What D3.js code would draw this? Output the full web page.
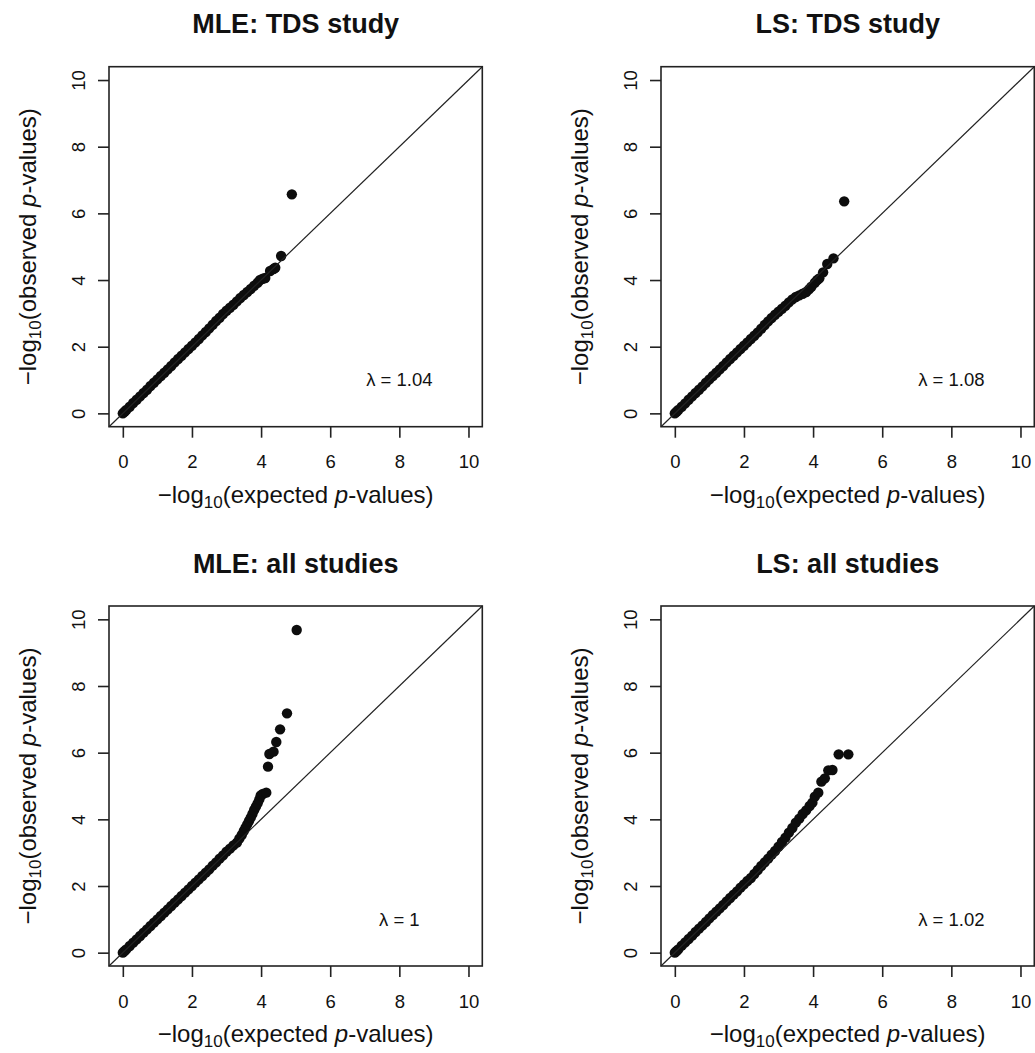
<!DOCTYPE html>
<html>
<head>
<meta charset="utf-8">
<script src="https://cdn.jsdelivr.net/npm/d3@7"></script>
<style>
  body { margin: 0; background: #fff; }
  svg text { font-family: 'Liberation Sans', Arial, Helvetica, sans-serif; fill: #111; }
</style>
</head>
<body>
<div id="chart"></div>
<script>
// panel titles and lambda labels, in order TL, TR, BL, BR
let titles = ['MLE: TDS study', 'LS: TDS study', 'MLE: all studies', 'LS: all studies']
let lambdas = ['λ = 1.04', 'λ = 1.08', 'λ = 1', 'λ = 1.02']
let ticks = [0, 2, 4, 6, 8, 10]

// [expected, observed] -log10 p-values
let mleTds = [
  [0, 0], [0.05, 0.05], [0.1, 0.1], [0.2, 0.2], [0.3, 0.31], [0.4, 0.41], [0.5, 0.51], [0.6, 0.61],
  [0.7, 0.71], [0.8, 0.82], [0.9, 0.92], [1.0, 1.02], [1.1, 1.12], [1.2, 1.22], [1.3, 1.32],
  [1.4, 1.42], [1.5, 1.53], [1.6, 1.63], [1.7, 1.73], [1.8, 1.83], [1.9, 1.93], [2.0, 2.03],
  [2.1, 2.13], [2.2, 2.23], [2.3, 2.34], [2.4, 2.44], [2.5, 2.55], [2.6, 2.66], [2.7, 2.77],
  [2.8, 2.87], [2.9, 2.98], [3.0, 3.08], [3.1, 3.17], [3.2, 3.26], [3.3, 3.36], [3.4, 3.46],
  [3.5, 3.55], [3.6, 3.64], [3.7, 3.73], [3.8, 3.83], [3.9, 3.92], [3.97, 4.0], [4.05, 4.04],
  [4.12, 4.06], [4.26, 4.27], [4.36, 4.33], [4.41, 4.37], [4.58, 4.72], [4.89, 6.57]
]
let lsTds = [
  [0, 0], [0.05, 0.05], [0.1, 0.1], [0.2, 0.2], [0.3, 0.3], [0.4, 0.41], [0.5, 0.51], [0.6, 0.61],
  [0.7, 0.71], [0.8, 0.81], [0.9, 0.92], [1.0, 1.02], [1.1, 1.12], [1.2, 1.22], [1.3, 1.32],
  [1.4, 1.42], [1.5, 1.53], [1.6, 1.63], [1.7, 1.73], [1.8, 1.83], [1.9, 1.93], [2.0, 2.03],
  [2.1, 2.13], [2.2, 2.23], [2.3, 2.33], [2.4, 2.43], [2.5, 2.54], [2.6, 2.65], [2.7, 2.76],
  [2.8, 2.86], [2.9, 2.96], [3.0, 3.05], [3.1, 3.14], [3.2, 3.23], [3.3, 3.33], [3.4, 3.42],
  [3.5, 3.49], [3.6, 3.54], [3.7, 3.59], [3.8, 3.64], [3.88, 3.72], [3.95, 3.8], [4.05, 3.92],
  [4.12, 4.0], [4.18, 4.05], [4.29, 4.23], [4.41, 4.48], [4.59, 4.65], [4.9, 6.36]
]
let mleAll = [
  [0, 0], [0.05, 0.05], [0.1, 0.1], [0.2, 0.2], [0.3, 0.3], [0.4, 0.4], [0.5, 0.5], [0.6, 0.6],
  [0.7, 0.7], [0.8, 0.8], [0.9, 0.9], [1.0, 1.0], [1.1, 1.1], [1.2, 1.2], [1.3, 1.3], [1.4, 1.4],
  [1.5, 1.5], [1.6, 1.6], [1.7, 1.7], [1.8, 1.8], [1.9, 1.9], [2.0, 2.0], [2.1, 2.1], [2.2, 2.2],
  [2.3, 2.3], [2.4, 2.4], [2.5, 2.5], [2.6, 2.61], [2.7, 2.71], [2.8, 2.82], [2.9, 2.92],
  [3.0, 3.03], [3.1, 3.12], [3.2, 3.22], [3.3, 3.3], [3.37, 3.42], [3.44, 3.53], [3.5, 3.65],
  [3.55, 3.75], [3.6, 3.85], [3.65, 3.95], [3.7, 4.05], [3.75, 4.16], [3.8, 4.28], [3.85, 4.38],
  [3.9, 4.48], [3.95, 4.6], [3.99, 4.72], [4.05, 4.76], [4.15, 4.8], [4.2, 5.58], [4.24, 5.96],
  [4.36, 6.03], [4.44, 6.32], [4.55, 6.7], [4.75, 7.18], [5.03, 9.68]
]
let lsAll = [
  [0, 0], [0.05, 0.05], [0.1, 0.1], [0.2, 0.21], [0.3, 0.31], [0.4, 0.41], [0.5, 0.51], [0.6, 0.62],
  [0.7, 0.72], [0.8, 0.82], [0.9, 0.92], [1.0, 1.03], [1.1, 1.13], [1.2, 1.23], [1.3, 1.33],
  [1.4, 1.43], [1.5, 1.54], [1.6, 1.64], [1.7, 1.74], [1.8, 1.84], [1.9, 1.95], [2.0, 2.05],
  [2.1, 2.15], [2.2, 2.24], [2.3, 2.36], [2.4, 2.48], [2.5, 2.6], [2.6, 2.71], [2.7, 2.82],
  [2.8, 2.94], [2.9, 3.05], [3.0, 3.18], [3.1, 3.32], [3.2, 3.45], [3.3, 3.6], [3.4, 3.74],
  [3.5, 3.9], [3.6, 4.02], [3.7, 4.16], [3.8, 4.27], [3.9, 4.4], [3.98, 4.5], [4.05, 4.68],
  [4.15, 4.8], [4.24, 5.13], [4.34, 5.23], [4.44, 5.47], [4.56, 5.48], [4.74, 5.95], [5.02, 5.95]
]
let series = [mleTds, lsTds, mleAll, lsAll]

let width = 1035
let height = 1053
let boxW = 373.3
let boxH = 360
let lefts = [109, 661]
let tops = [66.7, 606]

let svg = d3
  .select('#chart')
  .append('svg')
  .attr('width', width)
  .attr('height', height)

function subLabel(sel, word) {
  // -log10(<word> p-values) with a subscript 10 and italic p
  sel.append('tspan').text('\u2212log')
  sel.append('tspan').text('10').attr('font-size', 17).attr('dy', 5)
  sel.append('tspan').text('(' + word + ' ').attr('dy', -5)
  sel.append('tspan').text('p').attr('font-style', 'italic')
  sel.append('tspan').text('-values)')
}

series.forEach(function(data, i) {
  let x0 = lefts[i % 2]
  let y0 = tops[Math.floor(i / 2)]

  let x = d3.scaleLinear().domain([-0.4, 10.4]).range([0, boxW])
  let y = d3.scaleLinear().domain([-0.4, 10.4]).range([boxH, 0])

  let g = svg.append('g').attr('transform', `translate(${x0},${y0})`)

  // points
  g.selectAll('circle')
    .data(data)
    .enter()
    .append('circle')
    .attr('cx', d => x(d[0]))
    .attr('cy', d => y(d[1]))
    .attr('r', 5.2)
    .attr('fill', '#0d0d0d')

  // y = x reference line
  g.append('line')
    .attr('x1', x(-0.4))
    .attr('y1', y(-0.4))
    .attr('x2', x(10.4))
    .attr('y2', y(10.4))
    .attr('stroke', '#222')
    .attr('stroke-width', 1.2)

  // box
  g.append('rect')
    .attr('width', boxW)
    .attr('height', boxH)
    .attr('fill', 'none')
    .attr('stroke', '#222')
    .attr('stroke-width', 1.6)

  // x axis
  let xAxis = g
    .append('g')
    .attr('transform', `translate(0,${boxH})`)
    .call(d3.axisBottom(x).tickValues(ticks).tickSize(11).tickSizeOuter(0))
  xAxis.select('.domain').remove()
  xAxis.selectAll('line').attr('stroke', '#222').attr('stroke-width', 1.6)
  xAxis
    .selectAll('text')
    .attr('y', 41.6)
    .attr('dy', null)
    .attr('font-size', 18.5)
    .attr('font-family', null)

  // y axis, labels parallel to the axis
  let yAxis = g
    .append('g')
    .call(d3.axisLeft(y).tickValues(ticks).tickSize(11).tickSizeOuter(0))
  yAxis.select('.domain').remove()
  yAxis.selectAll('line').attr('stroke', '#222').attr('stroke-width', 1.6)
  yAxis
    .selectAll('text')
    .attr('transform', 'rotate(-90)')
    .attr('x', 0)
    .attr('y', -24)
    .attr('dy', null)
    .attr('text-anchor', 'middle')
    .attr('font-size', 18.5)
    .attr('font-family', null)

  // title
  g.append('text')
    .attr('x', boxW / 2)
    .attr('y', -33.4)
    .attr('text-anchor', 'middle')
    .attr('font-size', 27)
    .attr('font-weight', 'bold')
    .text(titles[i])

  // axis labels
  g.append('text')
    .attr('x', boxW / 2)
    .attr('y', boxH + 76)
    .attr('text-anchor', 'middle')
    .attr('font-size', 24)
    .call(subLabel, 'expected')

  g.append('text')
    .attr('transform', `translate(-73,${boxH / 2}) rotate(-90)`)
    .attr('text-anchor', 'middle')
    .attr('font-size', 24)
    .call(subLabel, 'observed')

  // lambda
  g.append('text')
    .attr('x', x(8))
    .attr('y', y(1))
    .attr('dy', '0.35em')
    .attr('text-anchor', 'middle')
    .attr('font-size', 18.5)
    .text(lambdas[i])
})
</script>
</body>
</html>
